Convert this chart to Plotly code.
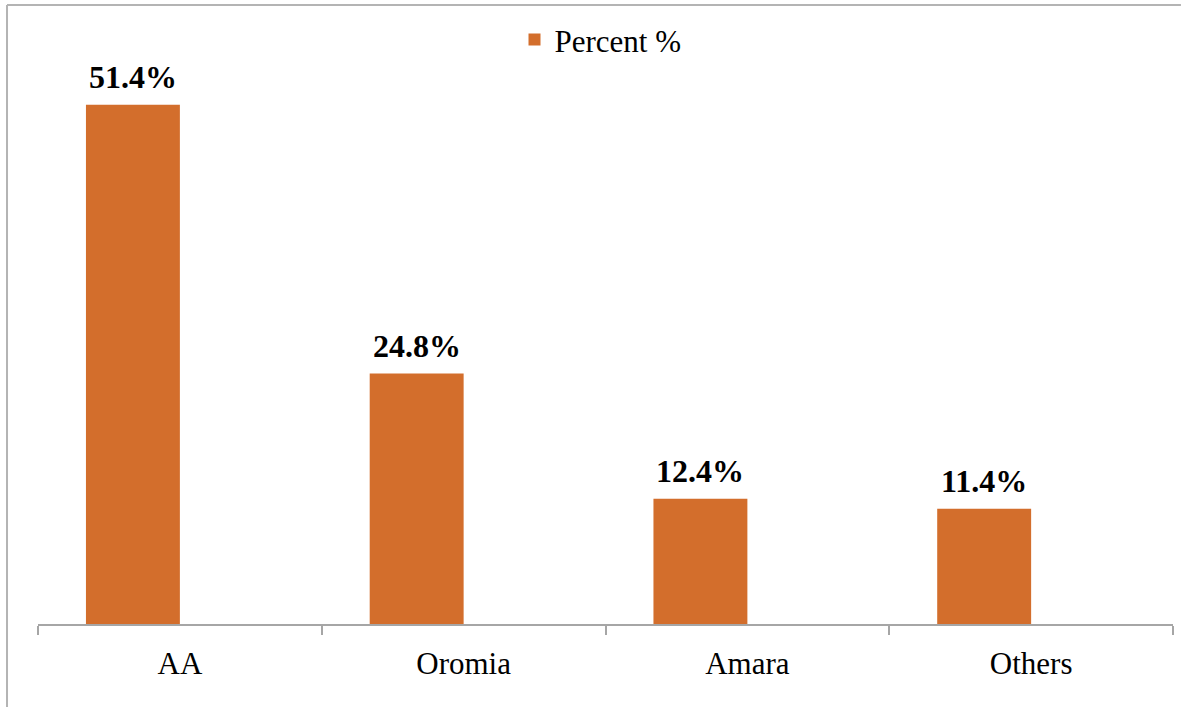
import plotly.graph_objects as go

# Regional distribution of respondents
regions = ["AA", "Oromia", "Amara", "Others"]
percent = [51.4, 24.8, 12.4, 11.4]
series_name = "Percent %"

BAR_COLOR = "#D36E2C"
GRID_GRAY = "#A6A6A6"
FONT = "Liberation Serif, Times New Roman, serif"
BAR_W = 0.331  # bar width in category units; bar sits left of category centre

fig = go.Figure()
fig.add_trace(go.Bar(
    x=regions,
    y=percent,
    name=series_name,
    marker=dict(color=BAR_COLOR, line=dict(width=0)),
    width=BAR_W,
    offset=-BAR_W,
    showlegend=True,
))

# value labels above each bar, centred on the bar
for i, v in enumerate(percent):
    fig.add_annotation(
        x=i - BAR_W / 2, y=v, text=f"<b>{v:.1f}%</b>",
        showarrow=False, yanchor="bottom", yshift=8,
        font=dict(family=FONT, size=32, color="black"),
    )

# thin frame on the left and top edges of the chart area
fig.add_shape(type="line", xref="paper", yref="paper",
              x0=-0.0273, x1=-0.0273, y0=1.0215, y1=-0.15,
              line=dict(color="#B4B4B4", width=2))
fig.add_shape(type="line", xref="paper", yref="paper",
              x0=-0.0273, x1=1.007, y0=1.0215, y1=1.0215,
              line=dict(color="#B4B4B4", width=2))

fig.update_layout(
    width=1186, height=707,
    margin=dict(l=38, r=13, t=18, b=83),
    plot_bgcolor="white", paper_bgcolor="white",
    font=dict(family=FONT, size=31, color="black"),
    legend=dict(
        orientation="h", x=0.4956, xanchor="center", y=0.964, yanchor="middle",
        font=dict(family=FONT, size=31, color="black"),
        bgcolor="rgba(0,0,0,0)",
    ),
    xaxis=dict(
        range=[-0.5, 3.5], showline=True, linecolor=GRID_GRAY, linewidth=1.5,
        ticks="outside", tickson="boundaries", ticklen=9, tickcolor=GRID_GRAY,
        tickwidth=1.5, showgrid=False, zeroline=False, ticklabelstandoff=11,
        tickfont=dict(family=FONT, size=31, color="black"),
    ),
    yaxis=dict(range=[0, 60], visible=False, showgrid=False, zeroline=False),
)

fig.write_html("out.html")
